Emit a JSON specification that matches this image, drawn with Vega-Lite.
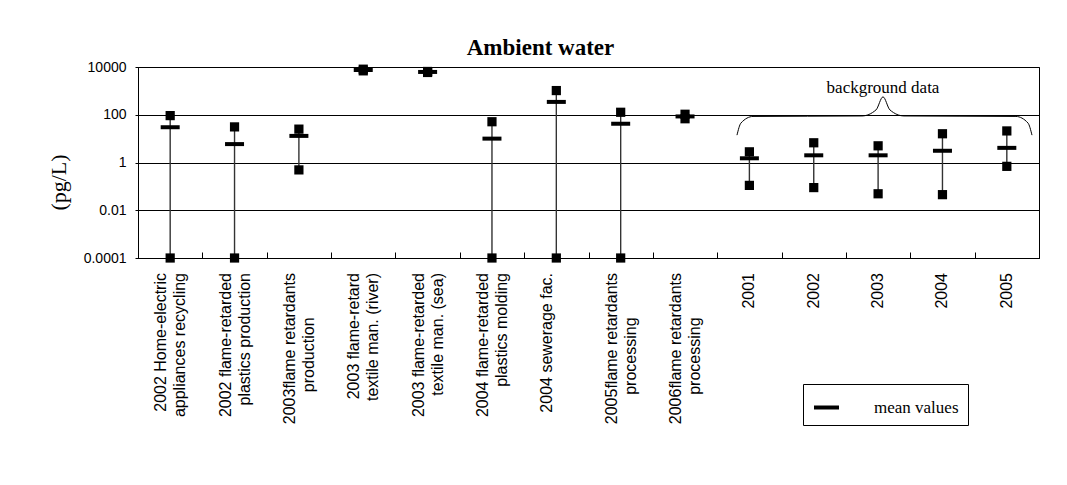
{
  "$schema": "https://vega.github.io/schema/vega-lite/v6.json",
  "width": 901,
  "height": 191,
  "autosize": {"type": "none"},
  "padding": {"left": 138, "top": 67, "right": 28, "bottom": 227},
  "background": "white",
  "title": {"text": "Ambient water", "font": "Liberation Serif", "fontSize": 23, "fontWeight": "bold", "color": "black", "anchor": "middle", "frame": "group", "dx": -48, "dy": 29, "baseline": "alphabetic", "offset": 11},
  "config": {
    "font": "Liberation Sans",
    "view": {"stroke": "black", "strokeWidth": 1}
  },
  "datasets": {
    "main": [
      {"l1": "2002 Home-electric", "l2": "appliances recycling", "min": 0.0001, "max": 92, "mean": 30},
      {"l1": "2002 flame-retarded", "l2": "plastics production", "min": 0.0001, "max": 31, "mean": 5.9},
      {"l1": "2003flame retardants", "l2": "production\u00a0\u00a0\u00a0\u00a0\u00a0\u00a0\u00a0\u00a0\u00a0\u00a0\u200b", "min": 0.49, "max": 25, "mean": 13},
      {"l1": "2003 flame-retard", "l2": "textile man. (river)", "min": 6900, "max": 8100, "mean": 7500},
      {"l1": "2003 flame-retarded", "l2": "textile man. (sea)", "min": 5900, "max": 6500, "mean": 6200},
      {"l1": "2004 flame-retarded", "l2": "plastics molding", "min": 0.0001, "max": 51, "mean": 10},
      {"l1": "2004 sewerage fac.", "l2": "", "min": 0.0001, "max": 1030, "mean": 345},
      {"l1": "2005flame retardants", "l2": "processing\u00a0\u00a0\u00a0\u00a0\u00a0\u00a0\u00a0\u00a0\u00a0\u00a0\u200b", "min": 0.0001, "max": 127, "mean": 42},
      {"l1": "2006flame retardants", "l2": "processing\u00a0\u00a0\u00a0\u00a0\u00a0\u00a0\u00a0\u00a0\u00a0\u00a0\u200b", "min": 68, "max": 105, "mean": 85},
      {"l1": "2001", "min": 0.11, "max": 2.8, "mean": 1.5},
      {"l1": "2002", "min": 0.089, "max": 6.7, "mean": 2.0},
      {"l1": "2003", "min": 0.049, "max": 5.0, "mean": 2.0},
      {"l1": "2004", "min": 0.045, "max": 16, "mean": 3.1},
      {"l1": "2005", "min": 0.69, "max": 21, "mean": 4.1}
    ],
    "brace": [
      {"bx": 9.307, "by": 14},
      {"bx": 9.369, "by": 45},
      {"bx": 9.556, "by": 85},
      {"bx": 11.249, "by": 89},
      {"bx": 11.467, "by": 159},
      {"bx": 11.576, "by": 561},
      {"bx": 11.684, "by": 159},
      {"bx": 11.902, "by": 89},
      {"bx": 13.642, "by": 85},
      {"bx": 13.829, "by": 45},
      {"bx": 13.891, "by": 14}
    ],
    "note": [
      {"tx": 11.576, "ty": 828, "label": "background data"}
    ]
  },
  "layer": [
    {
      "data": {"name": "main"},
      "encoding": {
        "x": {
          "field": "l1", "type": "nominal", "sort": null,
          "scale": {"type": "band", "paddingInner": 0, "paddingOuter": 0},
          "axis": {
            "title": null, "labels": false,
            "tickBand": "extent", "tickSize": -6, "tickColor": "black", "tickWidth": 1,
            "domainColor": "black", "domainWidth": 1, "grid": false
          }
        }
      },
      "layer": [
        {
          "mark": {"type": "rule", "color": "#333", "strokeWidth": 1.4},
          "encoding": {
            "y": {
              "field": "min", "type": "quantitative",
              "scale": {"type": "log", "domain": [0.0001, 10000], "nice": false},
              "axis": {
                "title": "(pg/L)", "titleFont": "Liberation Serif", "titleFontSize": 22, "titleFontWeight": "normal",
                "titleColor": "black", "titleX": -68, "titleY": 115,
                "values": [0.0001, 0.01, 1, 100, 10000], "format": "~g",
                "labelFont": "Liberation Sans", "labelFontSize": 14, "labelColor": "black", "labelPadding": 9,
                "tickSize": 3, "tickColor": "black", "domainColor": "black",
                "grid": true, "gridColor": "black", "gridWidth": 1
              }
            },
            "y2": {"field": "max"}
          }
        },
        {
          "mark": {"type": "square", "size": 85, "color": "black", "opacity": 1},
          "encoding": {"y": {"field": "max", "type": "quantitative"}}
        },
        {
          "mark": {"type": "square", "size": 85, "color": "black", "opacity": 1},
          "encoding": {"y": {"field": "min", "type": "quantitative"}}
        },
        {
          "mark": {"type": "tick", "size": 19, "thickness": 4, "opacity": 1},
          "encoding": {
            "y": {"field": "mean", "type": "quantitative"},
            "color": {
              "datum": "mean values",
              "scale": {"range": ["black"]},
              "legend": {
                "orient": "none", "legendX": 665, "legendY": 317, "title": null,
                "symbolType": "stroke", "symbolSize": 625, "symbolStrokeWidth": 4, "symbolStrokeColor": "black",
                "labelFont": "Liberation Serif", "labelFontSize": 17, "labelColor": "black", "labelOffset": 33,
                "strokeColor": "black", "fillColor": "white", "padding": 9
              }
            }
          }
        },
        {
          "transform": [{"filter": "isValid(datum.l2)"}],
          "mark": {"type": "text", "angle": 270, "align": "right", "baseline": "middle", "dx": -15, "dy": -9, "font": "Liberation Sans", "fontSize": 16, "color": "black"},
          "encoding": {"y": {"datum": 0.0001}, "text": {"field": "l1"}}
        },
        {
          "transform": [{"filter": "isValid(datum.l2)"}],
          "mark": {"type": "text", "angle": 270, "align": "right", "baseline": "middle", "dx": -15, "dy": 10, "font": "Liberation Sans", "fontSize": 16, "color": "black"},
          "encoding": {"y": {"datum": 0.0001}, "text": {"field": "l2"}}
        },
        {
          "transform": [{"filter": "!isValid(datum.l2)"}],
          "mark": {"type": "text", "angle": 270, "align": "right", "baseline": "middle", "dx": -15, "dy": 0, "font": "Liberation Sans", "fontSize": 16, "color": "black"},
          "encoding": {"y": {"datum": 0.0001}, "text": {"field": "l1"}}
        }
      ]
    },
    {
      "layer": [
        {
          "data": {"name": "brace"},
          "mark": {"type": "line", "color": "black", "strokeWidth": 1, "interpolate": "monotone"},
          "encoding": {
            "x": {"field": "bx", "type": "quantitative", "scale": {"domain": [0, 14], "nice": false, "zero": false}, "axis": null},
            "y": {"field": "by", "type": "quantitative"}
          }
        },
        {
          "data": {"name": "note"},
          "mark": {"type": "text", "font": "Liberation Serif", "fontSize": 17, "color": "black", "align": "center", "baseline": "alphabetic"},
          "encoding": {
            "x": {"field": "tx", "type": "quantitative", "scale": {"domain": [0, 14], "nice": false, "zero": false}, "axis": null},
            "y": {"field": "ty", "type": "quantitative"},
            "text": {"field": "label"}
          }
        }
      ]
    }
  ],
  "resolve": {"scale": {"x": "independent"}}
}
